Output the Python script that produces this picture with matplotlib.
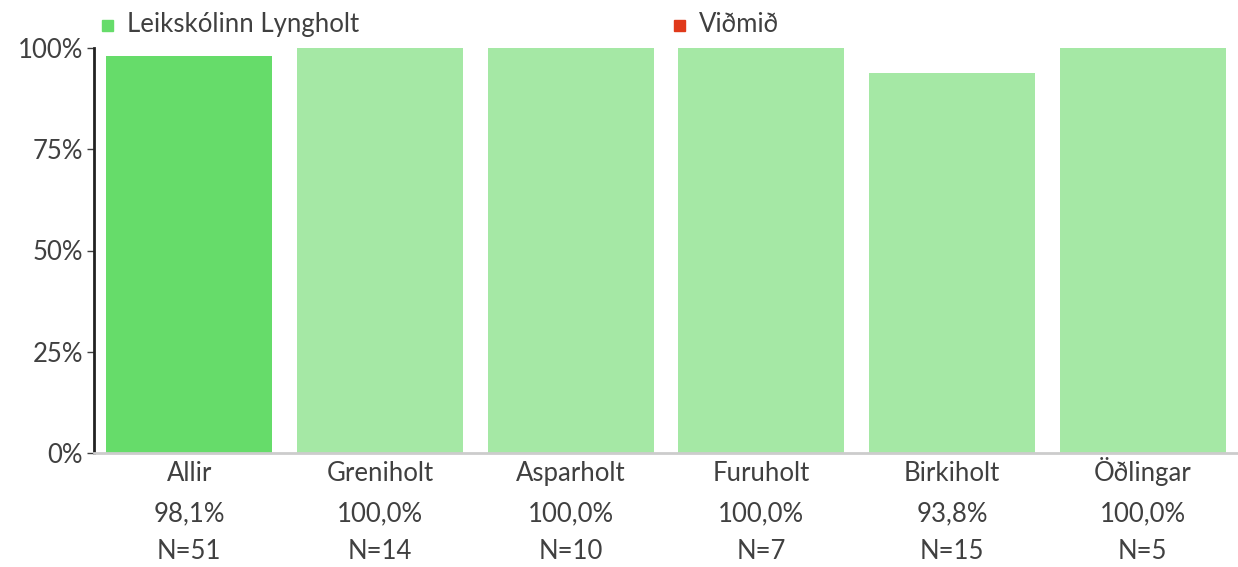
import matplotlib
matplotlib.use("Agg")
import matplotlib.pyplot as plt
from matplotlib.patches import Rectangle

categories = ["Allir", "Greniholt", "Asparholt", "Furuholt", "Birkiholt", "Öðlingar"]
values = [98.1, 100.0, 100.0, 100.0, 93.8, 100.0]
counts = [51, 14, 10, 7, 15, 5]
yticks = [0, 25, 50, 75, 100]
series_name = "Leikskólinn Lyngholt"
benchmark_name = "Viðmið"

plt.rcParams['font.family'] = ['Lato', 'DejaVu Sans']
plt.rcParams['font.weight'] = 'normal'
txt = "#404040"
fs = 18.5

fig = plt.figure(figsize=(12.38, 5.67), dpi=100)
W, H = 1238, 567
ax = fig.add_axes([94 / W, 1 - 453 / H, (1238 - 94) / W, (453 - 48) / H])

colors = ["#66dc6a"] + ["#a5e8a5"] * (len(categories) - 1)
x = list(range(len(categories)))
ax.bar(x, values, width=0.87, color=colors, zorder=2)

ax.set_xlim(-0.5, len(categories) - 0.5)
ax.set_ylim(0, 100)
ax.set_yticks(yticks)
ax.set_yticklabels([f"{t}%" for t in yticks], fontsize=fs, color=txt)
ax.tick_params(axis='y', length=5, width=1, color=txt, pad=3, direction='out')
ax.set_xticks(x)
ax.set_xticklabels([])
ax.tick_params(axis='x', length=0)

rows = [
    (categories, 28),
    ([f"{v:.1f}%".replace('.', ',') for v in values], 68),
    ([f"N={n}" for n in counts], 106),
]
for labels, off in rows:
    for xi, lab in zip(x, labels):
        ax.annotate(lab, xy=(xi, 0), xycoords=('data', 'axes fraction'),
                    xytext=(0, -off), textcoords='offset pixels',
                    ha='center', va='baseline', fontsize=fs, color=txt)

for s in ["top", "right"]:
    ax.spines[s].set_visible(False)
ax.spines["left"].set_color("#222222")
ax.spines["left"].set_linewidth(2)
ax.spines["bottom"].set_color("#cccccc")
ax.spines["bottom"].set_linewidth(2)

# legend
fig.patches.append(Rectangle((102 / W, 1 - 31 / H), 11 / W, 11 / H, transform=fig.transFigure,
                             color="#66dc6a", figure=fig))
fig.text(127 / W, 1 - 32 / H, series_name, fontsize=fs, color=txt, va='baseline', ha='left')
fig.patches.append(Rectangle((674 / W, 1 - 31 / H), 11 / W, 11 / H, transform=fig.transFigure,
                             color="#e0391a", figure=fig))
fig.text(699 / W, 1 - 32 / H, benchmark_name, fontsize=fs, color=txt, va='baseline', ha='left')

fig.savefig("out.png", dpi=100)
